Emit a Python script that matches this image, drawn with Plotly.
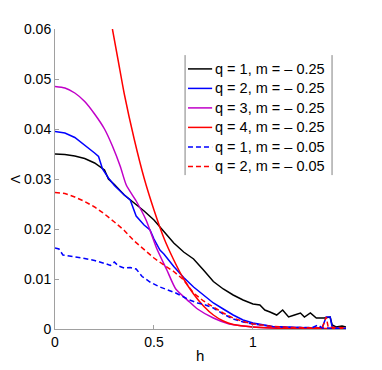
import plotly.graph_objects as go

# q = 1, m = -0.25 (noisy tail)
h_q1a = [0, 0.05, 0.1, 0.15, 0.2, 0.23, 0.25, 0.27, 0.3, 0.35, 0.4, 0.45, 0.5, 0.55, 0.6,
         0.65, 0.7, 0.75, 0.8, 0.85, 0.9, 0.95, 1.0, 1.035, 1.06, 1.086, 1.12, 1.15, 1.18,
         1.21, 1.24, 1.26, 1.29, 1.32, 1.36, 1.39, 1.40, 1.42, 1.45, 1.47]
l_q1a = [0.035, 0.0349, 0.0346, 0.0341, 0.0332, 0.0324, 0.0318, 0.0300, 0.0289, 0.0268,
         0.0252, 0.0236, 0.0218, 0.0196, 0.0172, 0.0154, 0.0140, 0.0118, 0.0095, 0.0080,
         0.0068, 0.0058, 0.0050, 0.0048, 0.0038, 0.0034, 0.0028, 0.0038, 0.0024, 0.0028,
         0.0032, 0.0024, 0.0032, 0.0022, 0.0022, 0.0024, 0.0008, 0.0004, 0.0006, 0.0004]

# q = 2, m = -0.25
h_q2a = [0, 0.05, 0.1, 0.15, 0.2, 0.22, 0.24, 0.27, 0.3, 0.35, 0.38, 0.41, 0.45, 0.48,
         0.5, 0.53, 0.55, 0.6, 0.65, 0.7, 0.75, 0.8, 0.85, 0.9, 0.95, 1.0, 1.1, 1.2, 1.3,
         1.35, 1.37, 1.39, 1.40, 1.42, 1.47]
l_q2a = [0.0395, 0.0392, 0.0383, 0.0368, 0.0352, 0.0345, 0.0320, 0.0302, 0.0287, 0.0268,
         0.0258, 0.0226, 0.0208, 0.0198, 0.0180, 0.0158, 0.0150, 0.0125, 0.0103, 0.0084,
         0.0068, 0.0052, 0.0040, 0.0028, 0.0018, 0.0012, 0.0005, 0.0003, 0.0002, 0.0003,
         0.0024, 0.0024, 0.0004, 0.0002, 0.0001]

# q = 3, m = -0.25
h_q3a = [0, 0.05, 0.1, 0.15, 0.2, 0.25, 0.29, 0.33, 0.36, 0.41, 0.46, 0.515, 0.565, 0.61,
         0.68, 0.72, 0.8, 0.88, 0.95, 1.0, 1.1, 1.2, 1.47]
l_q3a = [0.0485, 0.0482, 0.0472, 0.0455, 0.0430, 0.0400, 0.0366, 0.0325, 0.0288, 0.0256,
         0.0218, 0.0160, 0.0118, 0.0080, 0.0054, 0.0040, 0.0022, 0.0010, 0.0006, 0.0004,
         0.0002, 0.0001, 0.0]

# q = 4, m = -0.25
h_q4a = [0.29, 0.32, 0.35, 0.4, 0.45, 0.5, 0.55, 0.6, 0.65, 0.7, 0.75, 0.8, 0.85, 0.9,
         1.0, 1.1, 1.2, 1.47]
l_q4a = [0.060, 0.0535, 0.0470, 0.0380, 0.0302, 0.0238, 0.0182, 0.0138, 0.0100, 0.0070,
         0.0046, 0.0028, 0.0016, 0.0009, 0.0004, 0.0002, 0.0001, 0.0001]

# q = 1, m = -0.05
h_q1b = [0, 0.02, 0.04, 0.1, 0.15, 0.2, 0.23, 0.26, 0.28, 0.3, 0.32, 0.35, 0.38, 0.41,
         0.44, 0.48, 0.53, 0.57, 0.61, 0.65, 0.68, 0.72, 0.76, 0.8, 0.85, 0.9, 0.95, 1.0,
         1.1, 1.2, 1.3, 1.33, 1.35, 1.47]
l_q1b = [0.0162, 0.0160, 0.0148, 0.0145, 0.0141, 0.0137, 0.0134, 0.0130, 0.0127, 0.0134,
         0.0126, 0.0122, 0.0123, 0.0120, 0.0105, 0.0094, 0.0084, 0.0078, 0.0072, 0.0064,
         0.0058, 0.0052, 0.0048, 0.0042, 0.0030, 0.0020, 0.0014, 0.0010, 0.0005, 0.0003,
         0.0003, 0.0008, 0.0002, 0.0001]

# q = 2, m = -0.05
h_q2b = [0, 0.05, 0.1, 0.15, 0.2, 0.25, 0.3, 0.35, 0.4, 0.45, 0.5, 0.55, 0.6, 0.65, 0.7,
         0.75, 0.8, 0.85, 0.9, 0.95, 1.0, 1.1, 1.2, 1.3, 1.35, 1.37, 1.38, 1.47]
l_q2b = [0.0273, 0.0271, 0.0264, 0.0255, 0.0244, 0.0230, 0.0214, 0.0197, 0.0176, 0.0158,
         0.0142, 0.0128, 0.0115, 0.0098, 0.0072, 0.0056, 0.0044, 0.0032, 0.0022, 0.0015,
         0.0010, 0.0005, 0.0003, 0.0002, 0.0002, 0.0024, 0.0004, 0.0002]

series = [
    ("q = 1, m = – 0.25", h_q1a, l_q1a, "#000000", "solid", "linear"),
    ("q = 2, m = – 0.25", h_q2a, l_q2a, "#0000ff", "solid", "linear"),
    ("q = 3, m = – 0.25", h_q3a, l_q3a, "#c000c8", "solid", "spline"),
    ("q = 4, m = – 0.25", h_q4a, l_q4a, "#ff0000", "solid", "spline"),
    ("q = 1, m = – 0.05", h_q1b, l_q1b, "#0000ff", "5px,3px", "linear"),
    ("q = 2, m = – 0.05", h_q2b, l_q2b, "#ff0000", "5px,3px", "linear"),
]

FONT = "Liberation Sans, Arial, sans-serif"

fig = go.Figure()
for name, hx, ly, color, dash, shape in series:
    fig.add_trace(go.Scatter(x=hx, y=ly, mode="lines", name=name, showlegend=False,
                             line=dict(color=color, width=1.5, dash=dash, shape=shape,
                                       smoothing=0.6)))

axis_common = dict(showgrid=False, zeroline=False, showline=True, linecolor="#a0a0a0",
                   linewidth=1, ticks="inside", ticklen=4, tickcolor="#a0a0a0",
                   tickfont=dict(family=FONT, size=14, color="#000"), mirror=False,
                   automargin=False)

fig.update_xaxes(range=[0, 1.47], tickvals=[0, 0.5, 1], ticktext=["0", "0.5", "1"],
                 **axis_common)
fig.update_yaxes(range=[0, 0.06], tickvals=[0, 0.01, 0.02, 0.03, 0.04, 0.05, 0.06],
                 ticktext=["0", "0.01", "0.02", "0.03", "0.04", "0.05", "0.06"],
                 **axis_common)

# axis titles
fig.add_annotation(text="h", xref="paper", yref="paper", x=0.498, y=-0.087,
                   xanchor="center", yanchor="middle",
                   showarrow=False, font=dict(family=FONT, size=15, color="#000"))
fig.add_annotation(text="Λ", xref="paper", yref="paper", x=-0.136, y=0.5, textangle=-90,
                   xanchor="center", yanchor="middle", borderpad=0,
                   showarrow=False, font=dict(family=FONT, size=13, color="#000"))

# hand-built legend (only its left/right edges show in the reference)
row_y = [0.867, 0.802, 0.737, 0.672, 0.607, 0.542]
for xe in (0.447, 0.952):
    fig.add_shape(type="line", xref="paper", yref="paper", x0=xe, x1=xe, y0=0.513, y1=0.913,
                  line=dict(color="#808080", width=1))
for (name, hx, ly, color, dash, shape), ry in zip(series, row_y):
    fig.add_shape(type="line", xref="paper", yref="paper", x0=0.457, x1=0.540, y0=ry, y1=ry,
                  line=dict(color=color, width=1.5, dash=dash))
    fig.add_annotation(text=name, xref="paper", yref="paper", x=0.543, y=ry,
                       xanchor="left", yanchor="middle", showarrow=False,
                       font=dict(family=FONT, size=14.5, color="#000"))

# page body has an 8px default margin, so the figure is drawn 8px smaller
fig.update_layout(
    width=374, height=362,
    margin=dict(l=47, r=36, t=21, b=41),
    plot_bgcolor="white", paper_bgcolor="white",
    font=dict(family=FONT, size=13, color="#000"),
    showlegend=False,
)

fig.write_html("out.html")
